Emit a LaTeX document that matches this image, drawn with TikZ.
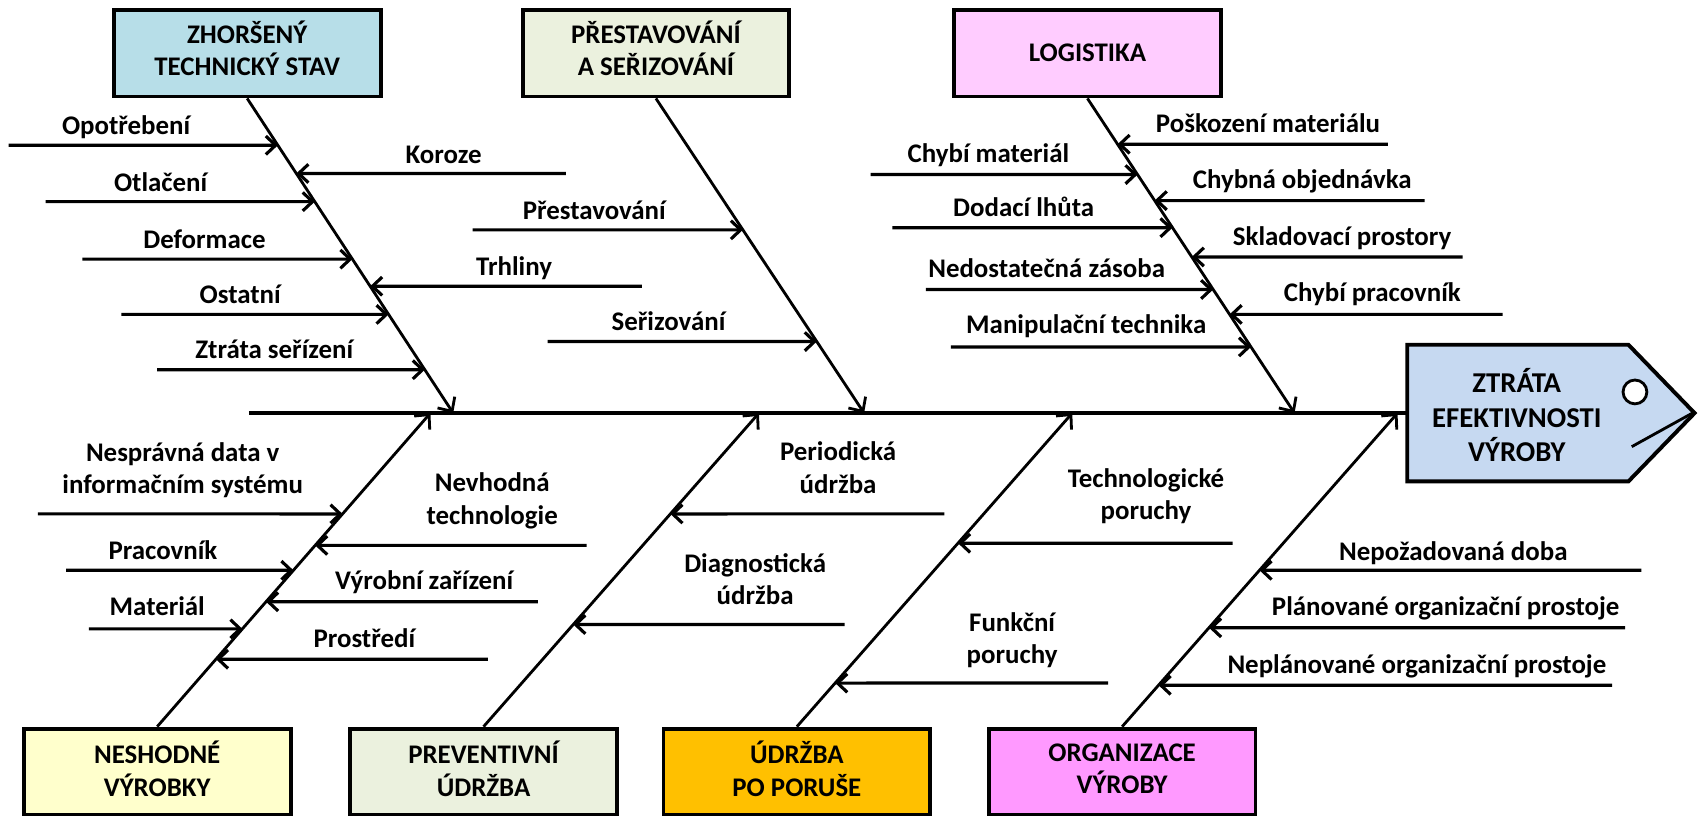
\documentclass[tikz,border=0pt]{standalone}
\usepackage{fontspec}
\setmainfont{Carlito}
\usetikzlibrary{arrows.meta}
\definecolor{cA}{HTML}{B7DEE8}
\definecolor{cB}{HTML}{EBF1DE}
\definecolor{cC}{HTML}{FFCCFF}
\definecolor{cD}{HTML}{FFFFCC}
\definecolor{cE}{HTML}{FFC000}
\definecolor{cF}{HTML}{FF99FF}
\definecolor{cH}{HTML}{C6D9F1}
\tikzset{
  catbox/.style={draw, line width=3.6pt, minimum width=246pt, minimum height=80pt, inner sep=0pt},
  boxtext/.style={font=\bfseries\fontsize{24.8}{30}\selectfont, align=center, inner sep=0pt},
  lbl/.style={font=\bfseries\fontsize{24.8}{30}\selectfont, inner sep=0pt},
  lblone/.style={lbl, anchor=west, text height=16pt, text depth=0pt},
  lbltwo/.style={lbl, align=center, anchor=center},
  sub/.style={line width=2.9pt, -{Straight Barb[length=9pt,width=17pt]}},
  bone/.style={line width=2.6pt, -{Straight Barb[length=10pt,width=19pt]}},
  spine/.style={line width=4pt},
}
\newcommand\causeitem[9]{%
  \coordinate (#1s) at (#4,#5);
  \coordinate (#1e) at (intersection of #2--#3 and 0,#5--2000,#5);
  \draw[sub] (#1s) -- (#1e);
  \node[#9] (#1t) at (#7,#8) {#6};
}
\begin{document}
\begin{tikzpicture}[x=1pt,y=-1pt]
\useasboundingbox (0,0) rectangle (1568,752);
% category boxes
\node[catbox,fill=cA] (b1) at (228,49) {};
\node[catbox,fill=cB] (b2) at (605,49) {};
\node[catbox,fill=cC] (b3) at (1003,49) {};
\node[catbox,fill=cD] (n1) at (145,712) {};
\node[catbox,fill=cB] (n2) at (446,712) {};
\node[catbox,fill=cE] (n3) at (735,712) {};
\node[catbox,fill=cF] (n4) at (1035,712) {};
\node[boxtext] (b1t) at (228,44.5) {ZHORŠENÝ\\TECHNICKÝ STAV};
\node[boxtext] (b2t) at (605,44.5) {PŘESTAVOVÁNÍ\\A SEŘIZOVÁNÍ};
\node[boxtext] (b3t) at (1003,49) {LOGISTIKA};
\node[boxtext] (n1t) at (145,709) {NESHODNÉ\\VÝROBKY};
\node[boxtext] (n2t) at (446,709) {PREVENTIVNÍ\\ÚDRŽBA};
\node[boxtext] (n3t) at (735,709) {ÚDRŽBA\\PO PORUŠE};
\node[boxtext] (n4t) at (1035,709) {ORGANIZACE\\VÝROBY};
% head
\draw[line width=3.6pt, fill=cH, line join=miter] (1298,318) -- (1502,318) -- (1563,381) -- (1502,444) -- (1298,444) -- cycle;
\node[font=\bfseries\fontsize{26.5}{32}\selectfont, align=center, inner sep=0pt] (head) at (1399,383) {ZTRÁTA\\EFEKTIVNOSTI\\VÝROBY};
\coordinate (hw) at (1298,381);
\coordinate (tip) at (1561,381);
\coordinate (str) at (1505,412);
\draw[line width=2.6pt] (str) -- (tip);
\coordinate (hole) at (1508,361.5);
\draw[line width=2.6pt, fill=white] (hole) circle (11);
% spine
\coordinate (tail) at (229.5,381);
\draw[spine] (tail) -- (hw);
\coordinate (s1) at (418,381);
\coordinate (s2) at (797,381);
\coordinate (s3) at (1194,381);
\coordinate (t1) at (397,381);
\coordinate (t2) at (700,381);
\coordinate (t3) at (989,381);
\coordinate (t4) at (1289,381);
\coordinate (B1) at (b1.south);
\coordinate (B2) at (b2.south);
\coordinate (B3) at (b3.south);
\coordinate (N1) at (n1.north);
\coordinate (N2) at (n2.north);
\coordinate (N3) at (n3.north);
\coordinate (N4) at (n4.north);
\draw[bone] (b1.south) -- (s1);
\draw[bone] (b2.south) -- (s2);
\draw[bone] (b3.south) -- (s3);
\draw[bone] (n1.north) -- (t1);
\draw[bone] (n2.north) -- (t2);
\draw[bone] (n3.north) -- (t3);
\draw[bone] (n4.north) -- (t4);
% causes: zhorseny technicky stav
\causeitem{a1}{B1}{s1}{8}{134}{Opotřebení}{57}{116}{lblone}
\causeitem{a2}{B1}{s1}{522}{160}{Koroze}{374}{143}{lblone}
\causeitem{a3}{B1}{s1}{42}{186}{Otlačení}{105}{169}{lblone}
\causeitem{a4}{B1}{s1}{76}{239}{Deformace}{132}{221}{lblone}
\causeitem{a5}{B1}{s1}{592}{264}{Trhliny}{439}{246}{lblone}
\causeitem{a6}{B1}{s1}{112}{290}{Ostatní}{184}{272}{lblone}
\causeitem{a7}{B1}{s1}{145}{341}{Ztráta seřízení}{180}{323}{lblone}
% prestavovani
\causeitem{p1}{B2}{s2}{436}{212}{Přestavování}{482}{194}{lblone}
\causeitem{p2}{B2}{s2}{505}{315}{Seřizování}{564}{297}{lblone}
% logistika
\causeitem{l1}{B3}{s3}{1280}{133}{Poškození materiálu}{1066}{114}{lblone}
\causeitem{l2}{B3}{s3}{803}{161}{Chybí materiál}{837}{142}{lblone}
\causeitem{l3}{B3}{s3}{1314}{185}{Chybná objednávka}{1100}{166}{lblone}
\causeitem{l4}{B3}{s3}{823}{210}{Dodací lhůta}{879}{192}{lblone}
\causeitem{l5}{B3}{s3}{1349}{237}{Skladovací prostory}{1137}{218}{lblone}
\causeitem{l6}{B3}{s3}{854}{267}{Nedostatečná zásoba}{856}{248}{lblone}
\causeitem{l7}{B3}{s3}{1386}{290}{Chybí pracovník}{1184}{270}{lblone}
\causeitem{l8}{B3}{s3}{877}{320}{Manipulační technika}{891}{300}{lblone}
% neshodne vyrobky
\causeitem{v1}{N1}{t1}{35}{474}{Nesprávná data v\\informačním systému}{168.5}{433.5}{lbltwo}
\causeitem{v2}{N1}{t1}{541}{503}{Nevhodná\\technologie}{454}{462}{lbltwo}
\causeitem{v3}{N1}{t1}{61}{526}{Pracovník}{100}{508}{lblone}
\causeitem{v4}{N1}{t1}{496}{555}{Výrobní zařízení}{309}{536}{lblone}
\causeitem{v5}{N1}{t1}{82}{580}{Materiál}{101}{560}{lblone}
\causeitem{v6}{N1}{t1}{450}{608}{Prostředí}{289}{589}{lblone}
% preventivni udrzba
\causeitem{u1}{N2}{t2}{871}{474}{Periodická\\údržba}{773}{431.5}{lbltwo}
\causeitem{u2}{N2}{t2}{779}{576}{Diagnostická\\údržba}{696.5}{534}{lbltwo}
% udrzba po poruse
\causeitem{r1}{N3}{t3}{1137}{501}{Technologické\\poruchy}{1057}{457.5}{lbltwo}
\causeitem{r2}{N3}{t3}{1022}{630}{Funkční\\poruchy}{933.5}{590.5}{lbltwo}
% organizace vyroby
\causeitem{o1}{N4}{t4}{1514}{526}{Nepožadovaná doba}{1235}{509}{lblone}
\causeitem{o2}{N4}{t4}{1499}{579}{Plánované organizační prostoje}{1173}{560}{lblone}
\causeitem{o3}{N4}{t4}{1487}{632}{Neplánované organizační prostoje}{1132}{613}{lblone}
\end{tikzpicture}
\end{document}
